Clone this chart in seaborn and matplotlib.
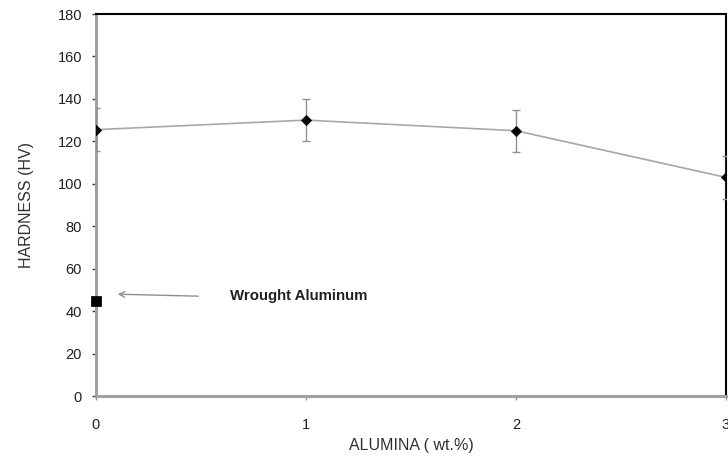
import numpy as np
import pandas as pd
import matplotlib
matplotlib.use("Agg")
import matplotlib.pyplot as plt
import seaborn as sns

alumina = [0, 1, 2, 3]
hardness = [125.5, 130, 125, 103]
err = [10, 10, 10, 10]
wrought_x = [0]
wrought_y = [45]

sns.set_style("white")
plt.rcParams['font.family'] = ['Liberation Sans', 'DejaVu Sans']

df = pd.DataFrame({"alumina": alumina, "hardness": hardness})

fig = plt.figure(figsize=(7.28, 4.59), dpi=100)
ax = fig.add_axes([96/728, 63/459, 630/728, 382/459])

# curve + error bars
sns.lineplot(data=df, x="alumina", y="hardness", color="#a8a8a8", lw=1.2, ax=ax)
ax.errorbar(alumina, hardness, yerr=err, fmt="none", ecolor="#909090",
            elinewidth=1, capsize=3, capthick=1, zorder=3)
sns.scatterplot(data=df, x="alumina", y="hardness", marker="D", color="black",
                s=28, edgecolor="black", zorder=4, ax=ax)

# wrought aluminum reference point
sns.scatterplot(x=wrought_x, y=wrought_y, marker="s", color="black", s=45,
                edgecolor="black", zorder=5, ax=ax, clip_on=False)
ax.annotate("", xy=(0.09, 48), xytext=(0.5, 47),
            arrowprops=dict(arrowstyle="->", color="#909090", lw=1))
ax.text(0.64, 47, "Wrought Aluminum", fontsize=10.8, fontweight="bold",
        va="center", ha="left", color="#202020")

ax.set_xlim(0, 3)
ax.set_ylim(0, 180)
ax.set_xticks([0, 1, 2, 3])
ax.set_yticks(range(0, 181, 20))
ax.tick_params(axis="y", direction="out", length=3, width=1, color="#404040",
               pad=7, labelsize=10.5, labelcolor="#202020", left=True)
ax.tick_params(axis="x", direction="out", length=3, width=1, color="#909090",
               pad=13, labelsize=10.5, labelcolor="#202020", bottom=True)

for s in ["left", "bottom"]:
    ax.spines[s].set_color("#a0a0a0")
    ax.spines[s].set_linewidth(2.2)
for s in ["top", "right"]:
    ax.spines[s].set_color("black")
    ax.spines[s].set_linewidth(1.5)

ax.set_xlabel("ALUMINA ( wt.%)", fontsize=11.5, color="#303030", labelpad=4)
ax.set_ylabel("HARDNESS (HV)", fontsize=11.5, color="#303030", labelpad=17)

fig.savefig("out.png", dpi=100)
